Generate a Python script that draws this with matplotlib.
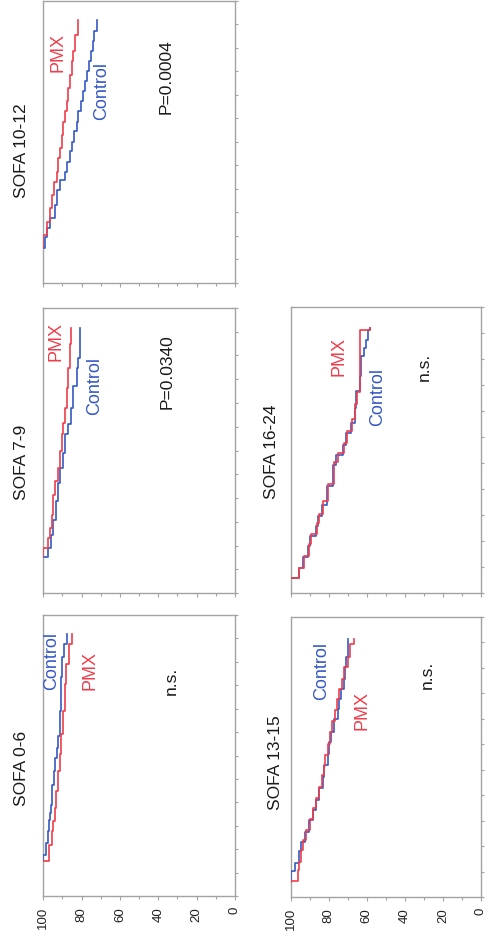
import matplotlib
matplotlib.use("Agg")
import matplotlib.pyplot as plt
import numpy as np
from matplotlib.ticker import MultipleLocator, FixedLocator

plt.rcParams['font.family'] = ['Liberation Sans', 'DejaVu Sans']

# ---------------- data ----------------
panel_titles = ["SOFA 0-6", "SOFA 7-9", "SOFA 10-12", "SOFA 13-15", "SOFA 16-24"]
p_texts = ["n.s.", "P=0.0340", "P=0.0004", "n.s.", "n.s."]
series_names = ["Control", "PMX"]
survival_ticks = [0, 20, 40, 60, 80, 100]

# time (tick intervals) and survival (%) after each event
sofa0_6_ctl_t = [0, 0.26, 0.76, 1.26, 1.76, 2.05, 2.4, 3.26, 3.83, 4.4, 4.84, 5.33, 6.4, 7.84, 8.7, 9.25, 9.7]
sofa0_6_ctl_s = [100, 98.4, 97.6, 97.1, 96.4, 95.8, 95.3, 94.6, 93.7, 93.0, 92.2, 91.3, 90.8, 90.2, 89.4, 87.8, 87.8]
sofa0_6_pmx_t = [0, 0.0, 0.69, 1.26, 1.7, 2.27, 2.98, 3.83, 4.55, 5.4, 6.4, 7.55, 8.4, 9.27, 9.7]
sofa0_6_pmx_s = [100, 97.0, 95.5, 95.0, 94.1, 93.2, 92.3, 91.5, 90.6, 89.7, 88.9, 88.0, 86.6, 84.8, 84.8]

sofa7_9_ctl_t = [0, 0, 0.39, 0.96, 1.59, 2.36, 3.14, 3.77, 4.4, 5.18, 5.6, 6.3, 7.2, 7.99, 8.4, 9.67]
sofa7_9_ctl_s = [100, 97.4, 96.2, 94.8, 93.6, 92.2, 91.3, 89.6, 88.7, 87.0, 85.7, 84.4, 82.6, 81.8, 80.7, 80.7]
sofa7_9_pmx_t = [0, 0.39, 0.82, 1.24, 1.8, 2.64, 3.2, 3.77, 4.47, 5.18, 5.67, 6.3, 7.14, 7.99, 8.97, 9.67]
sofa7_9_pmx_s = [100, 97.4, 96.5, 95.6, 94.8, 93.9, 92.2, 91.3, 90.4, 89.6, 88.7, 87.8, 87.0, 86.1, 85.5, 85.5]

sofa10_12_ctl_t = [0, 0, 0.47, 0.82, 1.25, 1.82, 2.46, 2.88, 3.23, 3.66, 4.09, 4.51, 4.94, 5.36, 5.79, 6.21,
                   6.64, 7.06, 7.49, 7.91, 8.34, 8.77, 9.19, 9.69]
sofa10_12_ctl_s = [100, 99.1, 98.2, 96.5, 93.9, 93.0, 91.3, 88.7, 87.8, 86.1, 85.2, 84.0, 82.6, 81.8, 80.5, 79.5,
                   78.3, 77.1, 76.2, 75.3, 74.3, 73.3, 72.2, 72.2]
sofa10_12_pmx_t = [0, 0.54, 1.11, 1.67, 2.24, 2.81, 3.23, 3.8, 4.23, 4.8, 5.36, 5.79, 6.21, 6.78, 7.35, 7.91,
                   8.34, 9.05, 9.69]
sofa10_12_pmx_s = [100, 98.2, 96.5, 95.3, 94.3, 93.0, 92.2, 91.3, 90.5, 89.6, 88.7, 87.8, 87.0, 86.1, 85.2, 84.4,
                   83.5, 82.0, 82.0]

sofa13_15_ctl_t = [0, 0.43, 0.76, 1.21, 1.6, 1.99, 2.45, 2.84, 3.23, 3.69, 4.14, 4.6, 5.05, 5.51, 5.9, 6.42,
                   6.81, 7.2, 7.59, 7.98, 8.44, 8.83, 9.55]
sofa13_15_ctl_s = [100, 97.6, 95.3, 94.4, 92.3, 90.1, 88.3, 86.5, 84.8, 83.1, 82.2, 80.5, 79.6, 78.7, 77.0, 75.2,
                   74.3, 73.5, 72.1, 71.4, 70.9, 70.0, 70.0]
sofa13_15_pmx_t = [0, 0.04, 0.5, 0.8, 1.25, 1.65, 2.05, 2.5, 2.9, 3.3, 3.75, 4.2, 4.55, 5.0, 5.45, 5.9, 6.35,
                   6.75, 7.2, 7.6, 8.0, 8.45, 8.85, 9.35, 9.55]
sofa13_15_pmx_s = [100, 96.3, 95.5, 94.6, 93.5, 91.8, 89.8, 88.0, 86.8, 85.0, 83.5, 82.6, 81.8, 80.5, 79.5, 78.0,
                   76.6, 75.5, 74.5, 73.0, 71.8, 70.0, 68.6, 66.8, 66.8]

sofa16_24_ctl_t = [0, 0, 0.38, 0.81, 1.22, 1.6, 1.99, 2.37, 2.82, 3.53, 4.36, 4.74, 5.13, 5.58, 5.96, 6.54,
                   7.18, 7.76, 8.53, 8.85, 9.17, 9.55, 9.6]
sofa16_24_ctl_s = [100, 95.3, 93.2, 90.6, 89.7, 86.6, 85.4, 83.7, 81.1, 77.6, 75.9, 72.4, 70.7, 68.1, 66.3, 65.5,
                   63.7, 62.9, 61.6, 60.3, 59.4, 58.2, 58.2]
sofa16_24_pmx_t = [0, 0, 0.38, 0.85, 1.3, 1.7, 2.1, 2.45, 2.95, 3.6, 4.45, 4.8, 5.2, 5.65, 6.1, 6.7, 7.15, 9.55, 9.6]
sofa16_24_pmx_s = [100, 95.3, 93.0, 90.2, 89.0, 86.0, 84.8, 83.0, 80.5, 77.0, 75.2, 72.0, 70.2, 67.8, 66.0, 65.0,
                   63.7, 58.2, 58.2]

# ---------------- layout (pixels in a 487 x 942 canvas) ----------------
W, H = 487, 942
RED = "#ee3d4b"
BLUE = "#3558c4"
SPINE = "#a3a3a3"

panels = [
    dict(title=panel_titles[0], p=p_texts[0], ctl=(sofa0_6_ctl_t, sofa0_6_ctl_s), pmx=(sofa0_6_pmx_t, sofa0_6_pmx_s),
         box=(43.3, 235, 615, 896), tlim=(-1.5, 10.5), labels=True,
         tpos=(22, 768), cpos=(52, 661), ppos=(90, 670), spos=(171, 681)),
    dict(title=panel_titles[1], p=p_texts[1], ctl=(sofa7_9_ctl_t, sofa7_9_ctl_s), pmx=(sofa7_9_pmx_t, sofa7_9_pmx_s),
         box=(43.3, 235, 308, 593), tlim=(-1.5, 10.5), labels=False,
         tpos=(22, 462), cpos=(95, 386), ppos=(56, 342), spos=(167, 372)),
    dict(title=panel_titles[2], p=p_texts[2], ctl=(sofa10_12_ctl_t, sofa10_12_ctl_s), pmx=(sofa10_12_pmx_t, sofa10_12_pmx_s),
         box=(43.3, 235, 0.5, 283), tlim=(-1.5, 10.5), labels=False,
         tpos=(22, 151), cpos=(102, 91), ppos=(58, 53), spos=(166, 77)),
    dict(title=panel_titles[3], p=p_texts[3], ctl=(sofa13_15_ctl_t, sofa13_15_ctl_s), pmx=(sofa13_15_pmx_t, sofa13_15_pmx_s),
         box=(290.5, 481, 617, 897), tlim=(-0.58, 10.42), labels=True,
         tpos=(276, 763), cpos=(322, 671), ppos=(362, 711), spos=(427, 675)),
    dict(title=panel_titles[4], p=p_texts[4], ctl=(sofa16_24_ctl_t, sofa16_24_ctl_s), pmx=(sofa16_24_pmx_t, sofa16_24_pmx_s),
         box=(290.5, 481, 307, 593), tlim=(-0.58, 10.42), labels=False,
         tpos=(272, 452), cpos=(378, 397), ppos=(339, 357), spos=(424, 367)),
]

fig = plt.figure(figsize=(W / 100, H / 100), dpi=100)


def fx(px):
    return px / W


def fy(py):
    return 1 - py / H


for p in panels:
    x0, x1, yt, yb = p["box"]
    ax = fig.add_axes([fx(x0), fy(yb), fx(x1) - fx(x0), fy(yt) - fy(yb)])
    ax.set_xlim(100, 0)
    ax.set_ylim(*p["tlim"])

    ct, cs = p["ctl"]
    pt, ps = p["pmx"]
    ax.plot(cs, ct, drawstyle="steps-pre", color=BLUE, lw=1.2, zorder=3)
    ax.plot(ps, pt, drawstyle="steps-pre", color=RED, lw=1.2, zorder=3)

    for sp in ax.spines.values():
        sp.set_color(SPINE)
        sp.set_linewidth(1.0)

    ax.xaxis.set_major_locator(FixedLocator(survival_ticks))
    ax.xaxis.set_minor_locator(MultipleLocator(10))
    ax.tick_params(axis="x", which="major", direction="out", length=3, width=0.8, color=SPINE,
                   labelsize=9.5, labelrotation=90, pad=5, labelbottom=p["labels"], labelcolor="#222222")
    ax.tick_params(axis="x", which="minor", direction="out", length=2, width=0.8, color=SPINE)

    lo, hi = p["tlim"]
    ax.yaxis.tick_right()
    ax.yaxis.set_major_locator(FixedLocator(np.arange(lo, hi + 0.01, 1.0)))
    ax.tick_params(axis="y", which="both", direction="out", length=2.5, width=0.8, color=SPINE,
                   labelright=False, labelleft=False)

    tx, ty = p["tpos"]
    fig.text(fx(tx), fy(ty), p["title"], rotation=90, ha="center", va="center",
             fontsize=12.5, color="#1a1a1a")
    cx, cy = p["cpos"]
    fig.text(fx(cx), fy(cy), series_names[0], rotation=90, ha="center", va="center",
             fontsize=13, color=BLUE)
    px_, py_ = p["ppos"]
    fig.text(fx(px_), fy(py_), series_names[1], rotation=90, ha="center", va="center",
             fontsize=13, color=RED)
    sx, sy = p["spos"]
    fig.text(fx(sx), fy(sy), p["p"], rotation=90, ha="center", va="center",
             fontsize=12.5, color="#1a1a1a")

fig.savefig("out.png", dpi=100, facecolor="white")
